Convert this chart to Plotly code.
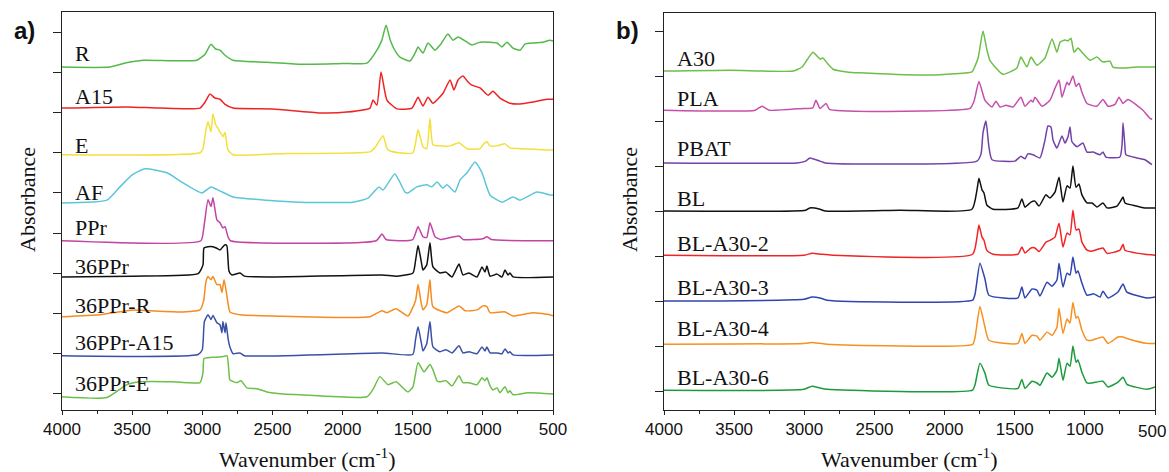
import plotly.graph_objects as go

W, H = 1169, 472

# ---------------- Panel a data (wavenumber cm-1, absorbance a.u.) ----------------
R_wn = [4000, 3660, 3550, 3423, 3040, 2980, 2938, 2905, 2874, 2840, 2781, 2540, 2304, 2000, 1826, 1755, 1720, 1690, 1660, 1620, 1591, 1520, 1480, 1462, 1427, 1391, 1341, 1300, 1249, 1213, 1177, 1113, 1077, 1020, 949, 899, 864, 828, 785, 735, 700, 643, 572, 522, 500]
R_abs = [0, 0, 0.10, 0.17, 0.17, 0.32, 0.57, 0.45, 0.42, 0.30, 0.17, 0.12, 0.07, 0.09, 0.10, 0.42, 0.67, 1.04, 0.67, 0.37, 0.25, 0.15, 0.37, 0.50, 0.35, 0.60, 0.42, 0.57, 0.82, 0.67, 0.75, 0.62, 0.55, 0.62, 0.62, 0.60, 0.50, 0.62, 0.47, 0.42, 0.57, 0.60, 0.62, 0.67, 0.65]

A15_wn = [4000, 3537, 3300, 3016, 2980, 2945, 2910, 2874, 2840, 2781, 2500, 2161, 1969, 1805, 1783, 1755, 1726, 1684, 1612, 1505, 1462, 1427, 1391, 1356, 1284, 1234, 1206, 1177, 1142, 1106, 1077, 1020, 963, 928, 878, 807, 735, 643, 543, 500]
A15_abs = [0, 0.03, 0, 0, 0.15, 0.35, 0.25, 0.22, 0.10, 0, -0.02, -0.12, -0.10, 0, 0.20, 0.07, 0.90, 0.20, -0.02, 0, 0.27, 0.05, 0.27, 0.12, 0.37, 0.70, 0.45, 0.70, 0.80, 0.65, 0.57, 0.50, 0.32, 0.42, 0.25, 0.12, 0.10, 0.15, 0.22, 0.22]

E_wn = [4000, 3016, 2995, 2975, 2959, 2938, 2924, 2905, 2896, 2874, 2853, 2838, 2817, 2781, 2400, 1805, 1770, 1712, 1677, 1600, 1498, 1462, 1427, 1400, 1377, 1356, 1306, 1234, 1170, 1113, 1020, 999, 971, 949, 899, 842, 807, 735, 543, 500]
E_abs = [0, 0.05, 0.15, 0.60, 0.82, 0.57, 1.02, 0.75, 0.70, 0.57, 0.45, 0.55, 0.12, 0, 0.03, 0.07, 0.17, 0.47, 0.12, 0.05, 0.05, 0.62, 0.20, 0.15, 0.90, 0.25, 0.22, 0.22, 0.30, 0.15, 0.15, 0.25, 0.32, 0.22, 0.22, 0.27, 0.17, 0.15, 0.12, 0.12]

AF_wn = [4000, 3680, 3587, 3500, 3408, 3252, 3137, 3002, 2938, 2874, 2781, 2540, 2304, 1926, 1819, 1741, 1712, 1627, 1555, 1534, 1470, 1399, 1363, 1327, 1284, 1256, 1199, 1163, 1113, 1056, 1006, 949, 864, 785, 735, 614, 522, 500]
AF_abs = [0, 0.07, 0.40, 0.70, 0.85, 0.75, 0.50, 0.25, 0.40, 0.30, 0.15, 0.07, 0.02, 0.02, 0.12, 0.40, 0.32, 0.72, 0.27, 0.25, 0.40, 0.45, 0.40, 0.52, 0.37, 0.45, 0.27, 0.57, 0.75, 1.02, 0.75, 0.20, 0.02, 0.15, 0.07, 0.27, 0.20, 0.20]

PPr_wn = [4000, 3010, 2990, 2959, 2938, 2924, 2896, 2874, 2853, 2838, 2817, 2800, 1760, 1719, 1690, 1500, 1462, 1427, 1400, 1377, 1341, 1300, 1170, 1140, 1000, 971, 940, 500]
PPr_abs = [0, 0, 0.30, 1.02, 0.85, 1.07, 0.52, 0.45, 0.32, 0.35, 0.10, 0, 0, 0.17, 0.03, 0.03, 0.35, 0.10, 0.08, 0.45, 0.10, 0.03, 0.12, 0.03, 0.05, 0.10, 0.03, 0]

PP36_wn = [4000, 3500, 3030, 2995, 2988, 2960, 2924, 2900, 2874, 2853, 2838, 2825, 2810, 2790, 2731, 2700, 2500, 1719, 1612, 1498, 1480, 1462, 1440, 1427, 1400, 1377, 1356, 1306, 1263, 1220, 1170, 1142, 1099, 1042, 1006, 985, 971, 949, 899, 864, 842, 821, 807, 785, 500]
PP36_abs = [0, 0.02, 0.08, 0.30, 0.72, 0.75, 0.75, 0.72, 0.67, 0.75, 0.80, 0.78, 0.15, 0.05, 0.10, 0.02, 0, 0.05, 0.02, 0.10, 0.40, 0.78, 0.40, 0.17, 0.30, 0.85, 0.25, 0.10, 0.12, 0, 0.32, 0.05, 0.10, 0, 0.25, 0.12, 0.27, 0.02, 0.07, 0, 0.17, 0.05, 0.10, 0, 0]

PP36R_wn = [4000, 3729, 3494, 3373, 3137, 3016, 2990, 2975, 2959, 2938, 2924, 2896, 2874, 2860, 2845, 2831, 2815, 2803, 2731, 2500, 1805, 1719, 1684, 1619, 1534, 1480, 1462, 1440, 1427, 1400, 1377, 1356, 1256, 1170, 1127, 1042, 999, 971, 949, 842, 785, 643, 522, 500]
PP36R_abs = [0, 0.05, 0.17, 0.15, 0.12, 0.17, 0.40, 0.85, 1.00, 0.92, 1.00, 0.80, 0.80, 0.60, 0.92, 0.67, 0.30, 0.12, 0.05, 0.02, 0, 0.15, 0.10, 0.20, 0.02, 0.40, 0.80, 0.35, 0.17, 0.30, 0.92, 0.25, 0.10, 0.27, 0.15, 0.17, 0.27, 0.25, 0.10, 0.12, 0.02, 0.10, 0.05, 0.02]

PP36A_wn = [4000, 3030, 3000, 2985, 2959, 2938, 2924, 2896, 2874, 2860, 2853, 2838, 2831, 2815, 2803, 2780, 2731, 2700, 1719, 1500, 1480, 1462, 1440, 1427, 1400, 1377, 1356, 1306, 1263, 1220, 1170, 1142, 1099, 1042, 1006, 985, 971, 949, 899, 864, 842, 821, 807, 785, 500]
PP36A_abs = [0, 0.03, 0.15, 0.85, 1.02, 0.90, 1.00, 0.82, 0.77, 0.57, 0.85, 0.57, 0.82, 0.40, 0.22, 0.05, 0.07, 0, 0.07, 0.03, 0.40, 0.72, 0.35, 0.12, 0.30, 0.85, 0.22, 0.10, 0.15, 0.07, 0.25, 0.07, 0.10, 0.05, 0.22, 0.12, 0.22, 0.07, 0.07, 0.05, 0.17, 0.07, 0.10, 0.02, 0.02]

PP36E_wn = [4000, 3680, 3537, 3444, 3209, 3109, 3016, 2995, 2988, 2959, 2924, 2880, 2850, 2824, 2810, 2803, 2753, 2724, 2682, 2610, 2540, 2423, 2304, 1826, 1780, 1734, 1677, 1619, 1534, 1498, 1462, 1420, 1377, 1356, 1327, 1306, 1263, 1220, 1170, 1142, 1099, 1042, 1006, 985, 971, 949, 928, 899, 878, 842, 821, 807, 785, 678, 500]
PP36E_abs = [0, -0.02, 0.30, 0.37, 0.37, 0.35, 0.35, 0.60, 0.95, 0.97, 0.98, 0.99, 1.00, 1.02, 0.60, 0.42, 0.35, 0.40, 0.22, 0.20, 0.12, 0.07, 0.05, 0, 0.20, 0.50, 0.30, 0.37, 0.12, 0.25, 0.85, 0.62, 0.80, 0.67, 0.40, 0.37, 0.40, 0.27, 0.52, 0.35, 0.35, 0.30, 0.47, 0.40, 0.47, 0.27, 0.17, 0.22, 0.10, 0.25, 0.10, 0.15, 0.05, 0.10, 0.07]

a_names = ["R", "A15", "E", "AF", "PPr", "36PPr", "36PPr-R", "36PPr-A15", "36PPr-E"]
a_wn = [R_wn, A15_wn, E_wn, AF_wn, PPr_wn, PP36_wn, PP36R_wn, PP36A_wn, PP36E_wn]
a_abs = [R_abs, A15_abs, E_abs, AF_abs, PPr_abs, PP36_abs, PP36R_abs, PP36A_abs, PP36E_abs]
a_offsets = [8.13, 7.11, 5.95, 4.75, 3.81, 2.91, 1.92, 0.95, -0.07]
a_label_y = [8.48, 7.41, 6.19, 5.02, 4.13, 3.18, 2.19, 1.29, 0.25]
a_colors = ["#55b84a", "#ee2424", "#f3e03a", "#5cc6d9", "#c244a4", "#111111", "#f58c1f", "#3b50a8", "#6cbf48"]

# ---------------- Panel b data ----------------
A30_wn = [4000, 3530, 3080, 3016, 2980, 2938, 2888, 2867, 2830, 2795, 2696, 2603, 2161, 1983, 1805, 1783, 1760, 1726, 1700, 1677, 1584, 1484, 1456, 1413, 1384, 1341, 1284, 1234, 1199, 1177, 1142, 1120, 1099, 1077, 1049, 1021, 963, 914, 871, 821, 800, 728, 629, 500]
A30_abs = [0, 0.02, 0, 0.09, 0.25, 0.42, 0.27, 0.29, 0.15, 0.04, -0.02, -0.04, -0.09, -0.07, -0.02, 0.11, 0.30, 0.89, 0.50, 0.24, -0.07, 0.07, 0.31, 0.09, 0.31, 0.13, 0.29, 0.71, 0.42, 0.64, 0.69, 0.67, 0.73, 0.42, 0.51, 0.42, 0.24, 0.31, 0.20, 0.22, 0.09, 0.07, 0.09, 0.09]

PLA_wn = [4000, 3350, 3301, 3250, 3009, 2940, 2917, 2888, 2845, 2820, 2161, 1819, 1790, 1755, 1712, 1662, 1634, 1605, 1562, 1512, 1456, 1427, 1384, 1370, 1356, 1306, 1249, 1213, 1184, 1163, 1142, 1127, 1113, 1085, 1063, 1042, 1021, 985, 914, 871, 835, 785, 757, 728, 693, 629, 586, 536, 520]
PLA_abs = [0, 0, 0.09, 0, 0.04, 0.05, 0.22, 0.04, 0.15, 0.02, -0.02, 0.04, 0.20, 0.64, 0.22, 0.07, 0.20, 0.07, 0.11, 0.07, 0.29, 0.09, 0.22, 0.18, 0.29, 0.09, 0.22, 0.49, 0.67, 0.29, 0.49, 0.62, 0.56, 0.76, 0.53, 0.60, 0.40, 0.15, 0.09, 0.24, 0.09, 0.13, 0.29, 0.15, 0.24, 0.11, 0, -0.18, -0.20]

PBAT_wn = [4000, 3050, 2990, 2960, 2888, 2850, 1769, 1740, 1726, 1705, 1684, 1662, 1498, 1456, 1427, 1406, 1370, 1320, 1284, 1263, 1242, 1227, 1199, 1163, 1142, 1120, 1106, 1092, 1056, 1014, 985, 942, 892, 871, 850, 750, 735, 728, 715, 707, 629, 572, 522]
PBAT_abs = [0, 0, 0.04, 0.11, 0.04, 0, 0.04, 0.20, 0.67, 0.93, 0.36, 0.07, 0.04, 0.15, 0.09, 0.20, 0.18, 0.11, 0.51, 0.82, 0.80, 0.51, 0.33, 0.60, 0.44, 0.58, 0.80, 0.47, 0.36, 0.44, 0.24, 0.24, 0.18, 0.24, 0.13, 0.13, 0.40, 0.89, 0.40, 0.18, 0.11, 0.07, -0.04]

BL_wn = [4000, 2990, 2960, 2888, 2850, 2318, 1805, 1769, 1755, 1733, 1719, 1698, 1655, 1477, 1449, 1427, 1384, 1356, 1327, 1277, 1249, 1213, 1184, 1156, 1127, 1106, 1085, 1063, 1042, 1021, 985, 949, 914, 871, 842, 771, 750, 728, 714, 657, 572, 500]
BL_abs = [0, 0.02, 0.07, 0.04, 0, 0.02, 0.04, 0.47, 0.73, 0.47, 0.40, 0.13, 0.04, 0.07, 0.27, 0.09, 0.20, 0.22, 0.11, 0.36, 0.29, 0.42, 0.75, 0.20, 0.56, 0.51, 1.00, 0.53, 0.60, 0.36, 0.18, 0.18, 0.09, 0.18, 0.07, 0.11, 0.20, 0.31, 0.18, 0.13, 0.07, 0.07]

BL2_wn = [4000, 3000, 2945, 2880, 2800, 1800, 1769, 1755, 1733, 1719, 1698, 1655, 1477, 1449, 1427, 1384, 1356, 1327, 1277, 1249, 1213, 1184, 1156, 1127, 1106, 1085, 1063, 1042, 1021, 985, 949, 871, 842, 750, 728, 714, 572, 500]
BL2_abs = [0, 0, 0.04, 0.02, 0, 0.02, 0.40, 0.67, 0.40, 0.33, 0.10, 0.02, 0.02, 0.18, 0.05, 0.16, 0.16, 0.08, 0.29, 0.33, 0.40, 0.71, 0.18, 0.49, 0.45, 1.00, 0.56, 0.58, 0.29, 0.11, 0.09, 0.16, 0.04, 0.11, 0.24, 0.11, 0.02, 0]

BL3_wn = [4000, 3002, 2945, 2888, 2838, 1800, 1783, 1748, 1712, 1684, 1477, 1449, 1427, 1377, 1341, 1320, 1270, 1234, 1199, 1184, 1156, 1127, 1106, 1085, 1063, 1049, 1021, 985, 935, 892, 871, 835, 764, 728, 700, 557, 500]
BL3_abs = [0, 0.04, 0.09, 0.07, 0.02, 0.02, 0.15, 0.84, 0.49, 0.13, 0.07, 0.31, 0.07, 0.27, 0.24, 0.11, 0.42, 0.33, 0.47, 0.84, 0.31, 0.62, 0.58, 0.98, 0.62, 0.67, 0.40, 0.13, 0.16, 0.09, 0.22, 0.07, 0.20, 0.38, 0.20, 0.07, 0.09]

BL4_wn = [4000, 3002, 2945, 2888, 2838, 1800, 1783, 1748, 1712, 1684, 1477, 1449, 1427, 1377, 1341, 1320, 1270, 1234, 1199, 1184, 1156, 1127, 1106, 1085, 1063, 1049, 1021, 985, 949, 871, 835, 764, 728, 700, 557, 500]
BL4_abs = [0, 0.02, 0.04, 0.02, 0, 0, 0.15, 0.84, 0.38, 0.09, 0.02, 0.24, 0.02, 0.20, 0.18, 0.09, 0.27, 0.20, 0.38, 0.80, 0.24, 0.56, 0.47, 0.93, 0.58, 0.62, 0.31, 0.09, 0.09, 0.16, 0.02, 0.16, 0.16, 0.13, 0.02, 0.02]

BL6_wn = [4000, 3002, 2945, 2888, 2838, 1800, 1783, 1748, 1712, 1684, 1477, 1449, 1427, 1377, 1341, 1320, 1270, 1234, 1199, 1184, 1156, 1127, 1106, 1085, 1063, 1049, 1021, 985, 949, 871, 835, 764, 728, 700, 557, 500]
BL6_abs = [0, 0.02, 0.09, 0.05, 0.02, 0, 0.12, 0.60, 0.38, 0.11, 0.04, 0.24, 0.04, 0.20, 0.16, 0.11, 0.38, 0.29, 0.44, 0.71, 0.22, 0.60, 0.53, 0.98, 0.62, 0.67, 0.40, 0.16, 0.16, 0.20, 0.07, 0.18, 0.29, 0.13, 0.02, 0.07]

b_names = ["A30", "PLA", "PBAT", "BL", "BL-A30-2", "BL-A30-3", "BL-A30-4", "BL-A30-6"]
b_wn = [A30_wn, PLA_wn, PBAT_wn, BL_wn, BL2_wn, BL3_wn, BL4_wn, BL6_wn]
b_abs = [A30_abs, PLA_abs, PBAT_abs, BL_abs, BL2_abs, BL3_abs, BL4_abs, BL6_abs]
b_offsets = [7.11, 6.24, 5.07, 4.00, 3.02, 2.00, 1.04, 0.02]
b_label_y = [7.40, 6.49, 5.40, 4.27, 3.29, 2.31, 1.38, 0.31]
b_colors = ["#6cbf48", "#c54fad", "#7242a8", "#111111", "#f02424", "#2f45b0", "#f7901e", "#1c9a3c"]

x_ticks = [4000, 3500, 3000, 2500, 2000, 1500, 1000, 500]
x_ticktext = [str(v) for v in x_ticks]
# last label of panel b is drawn as an annotation (it sits on the page edge)
x2_ticktext = x_ticktext[:-1] + [""]

fig = go.Figure()

for names, wns, abss, offs, cols, xa, ya in [
    (a_names, a_wn, a_abs, a_offsets, a_colors, "x", "y"),
    (b_names, b_wn, b_abs, b_offsets, b_colors, "x2", "y2"),
]:
    for n, w, a, o, c in zip(names, wns, abss, offs, cols):
        fig.add_trace(go.Scatter(
            x=w, y=[v + o for v in a], mode="lines", name=n,
            line=dict(color=c, width=1.5, shape="spline", smoothing=0.5),
            xaxis=xa, yaxis=ya, showlegend=False, hoverinfo="skip"))

label_font = dict(family="Liberation Serif", size=22, color="#111111")
ann = []
for n, ly in zip(a_names, a_label_y):
    ann.append(dict(x=3922, y=ly, xref="x", yref="y", text=n, showarrow=False,
                    xanchor="left", yanchor="middle", font=label_font))
for n, ly in zip(b_names, b_label_y):
    ann.append(dict(x=3922, y=ly, xref="x2", yref="y2", text=n, showarrow=False,
                    xanchor="left", yanchor="middle", font=label_font))

tick_font = dict(family="Liberation Sans", size=17, color="#111")
ann.append(dict(x=x_ticks[-1], y=1 - 431 / H, xref="x2", yref="paper", text=x_ticktext[-1],
                showarrow=False, xanchor="center", yanchor="middle", xshift=-3, font=tick_font))

title_font = dict(family="Liberation Serif", size=22, color="#111111")
for cx in [307.5 / W, 909.5 / W]:
    ann.append(dict(x=cx, y=1 - 458 / H, xref="paper", yref="paper",
                    text="Wavenumber (cm<sup>-1</sup>)", showarrow=False,
                    xanchor="center", yanchor="middle", font=title_font))
for cx in [27 / W, 629 / W]:
    ann.append(dict(x=cx, y=1 - 200 / H, xref="paper", yref="paper",
                    text="Absorbance", textangle=-90, showarrow=False,
                    xanchor="center", yanchor="middle", font=title_font))
for t, cx in [("a)", 24 / W), ("b)", 627 / W)]:
    ann.append(dict(x=cx, y=1 - 30 / H, xref="paper", yref="paper", text="<b>" + t + "</b>",
                    showarrow=False, xanchor="center", yanchor="middle",
                    font=dict(family="Liberation Sans", size=24, color="#111111")))

xcommon = dict(range=[4000, 500], tickvals=x_ticks, ticks="outside", ticklen=4, tickwidth=1,
               tickcolor="#222", showline=True, linecolor="#222", linewidth=1, mirror=True,
               showgrid=False, zeroline=False, automargin=False, tickfont=tick_font,
               minor=dict(dtick=250, tick0=500, ticks="outside", ticklen=3, tickcolor="#222"))
ycommon = dict(ticks="outside", ticklen=8, tickwidth=1, tickcolor="#222", showticklabels=False,
               showline=True, linecolor="#222", linewidth=1, mirror=True, showgrid=False,
               zeroline=False, automargin=False)

fig.update_layout(
    width=W, height=H, margin=dict(l=0, r=0, t=0, b=0, pad=0), autosize=False,
    paper_bgcolor="white", plot_bgcolor="white",
    xaxis=dict(domain=[62 / W, 553 / W], anchor="y", ticktext=x_ticktext, **xcommon),
    yaxis=dict(domain=[1 - 410 / H, 1 - 12 / H], anchor="x", range=[-0.4, 9.5],
               tickvals=list(range(10)), **ycommon),
    xaxis2=dict(domain=[664 / W, 1155 / W], anchor="y2", ticktext=x2_ticktext, **xcommon),
    yaxis2=dict(domain=[1 - 410 / H, 1 - 13 / H], anchor="x2", range=[-0.42, 8.4],
                tickvals=list(range(9)), **ycommon),
    annotations=ann,
)

fig.write_html("out.html", config={"displayModeBar": False},
               post_script="document.body.style.margin='0px';document.body.style.overflow='hidden';")
